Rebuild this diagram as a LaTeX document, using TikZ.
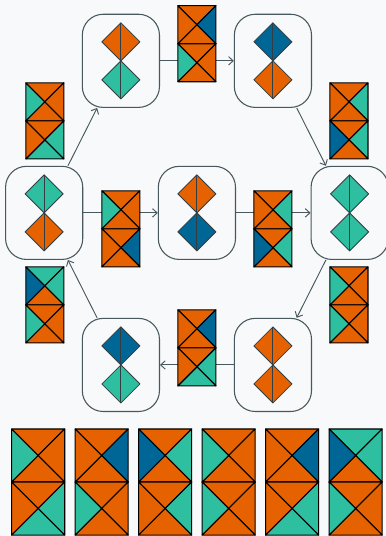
\documentclass[tikz,border=0pt]{standalone}
\usepackage{xcolor}
\usepackage{tikz}
\usetikzlibrary{arrows.meta, positioning, shapes.geometric}
\definecolor{tileorange}{RGB}{230,97,0}
\definecolor{tileteal}{RGB}{46,191,160}
\definecolor{tileblue}{RGB}{0,102,150}
\definecolor{edgegray}{RGB}{72,88,94}
\definecolor{darkgray}{RGB}{50,62,68}
\definecolor{paper}{RGB}{248,249,250}

% one square of a tile, centre (0,#1), triangles N E S W
\newcommand{\quadrado}[5]{%
    \filldraw[triangulo,fill=#2] (-0.5,#1+0.5) -- (0.5,#1+0.5) -- (0,#1) -- cycle;
    \filldraw[triangulo,fill=#3] (0.5,#1+0.5) -- (0.5,#1-0.5) -- (0,#1) -- cycle;
    \filldraw[triangulo,fill=#4] (0.5,#1-0.5) -- (-0.5,#1-0.5) -- (0,#1) -- cycle;
    \filldraw[triangulo,fill=#5] (-0.5,#1-0.5) -- (-0.5,#1+0.5) -- (0,#1) -- cycle;}
% tile = two squares stacked
\newcommand{\ladrilho}[9]{%
    \begin{scope}[#1]
        \quadrado{0.5}{#2}{#3}{#4}{#5}
        \quadrado{-0.5}{#6}{#7}{#8}{#9}
    \end{scope}}
% the two diamonds inside a state
\newcommand{\losangos}[3]{%
    \node[losango,fill=#2] (#1a) at ([yshift=0.5cm]#1.center) {};
    \node[losango,fill=#3] (#1b) at ([yshift=-0.5cm]#1.center) {};
    \draw[darkgray,line width=0.7pt] (#1a.north) -- (#1b.south);}

\begin{document}
\begin{tikzpicture}[
        node distance=1.55cm and 1.96cm,
        estado/.style={draw=edgegray,rounded corners=0.55cm,minimum width=2.03cm,minimum height=2.45cm,line width=0.8pt},
        losango/.style={diamond,draw=darkgray,minimum width=1cm,minimum height=1cm,inner sep=0pt,outer sep=0pt,line width=0.6pt},
        fluxo/.style={-{Straight Barb[length=1.2mm,width=2.2mm]},draw=edgegray,line width=0.7pt},
        triangulo/.style={draw=black,line width=0.8pt,line join=round}
    ]
        \path[use as bounding box,fill=paper] (-5.18,-8.5) rectangle (4.97,5.6);

        \node[estado] (meio) at (0,0) {};
        \node[estado,left=of meio] (esq) {};
        \node[estado,right=of meio] (dir) {};
        \node[estado] (supesq) at (-2,4) {};
        \node[estado] (supdir) at (2,4) {};
        \node[estado] (infesq) at (-2,-4) {};
        \node[estado] (infdir) at (2,-4) {};

        \losangos{esq}{tileteal}{tileorange}
        \losangos{supesq}{tileorange}{tileteal}
        \losangos{supdir}{tileblue}{tileorange}
        \losangos{meio}{tileorange}{tileblue}
        \losangos{dir}{tileteal}{tileteal}
        \losangos{infesq}{tileblue}{tileteal}
        \losangos{infdir}{tileorange}{tileorange}

        \draw[fluxo] (esq) -- (supesq);
        \draw[fluxo] (supesq) -- (supdir);
        \draw[fluxo] (supdir) -- (dir);
        \draw[fluxo] (esq) -- (meio);
        \draw[fluxo] (meio) -- (dir);
        \draw[fluxo] (dir) -- (infdir);
        \draw[fluxo] (infdir) -- (infesq);
        \draw[fluxo] (infesq) -- (esq);

        % tiles on the transitions
        \ladrilho{shift={(-4,2.42)}}{tileorange}{tileorange}{tileorange}{tileteal}{tileorange}{tileteal}{tileteal}{tileorange}
        \ladrilho{shift={(0,4.45)}}{tileorange}{tileblue}{tileorange}{tileorange}{tileorange}{tileorange}{tileorange}{tileteal}
        \ladrilho{shift={(4,2.42)}}{tileorange}{tileteal}{tileorange}{tileorange}{tileorange}{tileteal}{tileorange}{tileblue}
        \ladrilho{shift={(-2,-0.42)}}{tileorange}{tileorange}{tileorange}{tileteal}{tileorange}{tileblue}{tileorange}{tileorange}
        \ladrilho{shift={(2,-0.42)}}{tileorange}{tileteal}{tileorange}{tileorange}{tileorange}{tileteal}{tileorange}{tileblue}
        \ladrilho{shift={(4,-2.42)}}{tileorange}{tileorange}{tileorange}{tileteal}{tileorange}{tileorange}{tileorange}{tileteal}
        \ladrilho{shift={(0,-3.55)}}{tileorange}{tileblue}{tileorange}{tileorange}{tileorange}{tileteal}{tileteal}{tileorange}
        \ladrilho{shift={(-4,-2.42)}}{tileteal}{tileteal}{tileorange}{tileblue}{tileorange}{tileorange}{tileorange}{tileteal}

        % the tile set
        \ladrilho{shift={(-4.175,-7.08)},scale=1.395}{tileorange}{tileorange}{tileorange}{tileteal}{tileorange}{tileteal}{tileteal}{tileorange}
        \ladrilho{shift={(-2.505,-7.08)},scale=1.395}{tileorange}{tileblue}{tileorange}{tileorange}{tileorange}{tileorange}{tileorange}{tileteal}
        \ladrilho{shift={(-0.835,-7.08)},scale=1.395}{tileorange}{tileteal}{tileorange}{tileblue}{tileorange}{tileteal}{tileorange}{tileorange}
        \ladrilho{shift={(0.835,-7.08)},scale=1.395}{tileorange}{tileorange}{tileorange}{tileteal}{tileorange}{tileorange}{tileorange}{tileteal}
        \ladrilho{shift={(2.505,-7.08)},scale=1.395}{tileorange}{tileblue}{tileorange}{tileorange}{tileorange}{tileteal}{tileteal}{tileorange}
        \ladrilho{shift={(4.175,-7.08)},scale=1.395}{tileteal}{tileteal}{tileorange}{tileblue}{tileorange}{tileorange}{tileorange}{tileteal}
    \end{tikzpicture}
\end{document}
